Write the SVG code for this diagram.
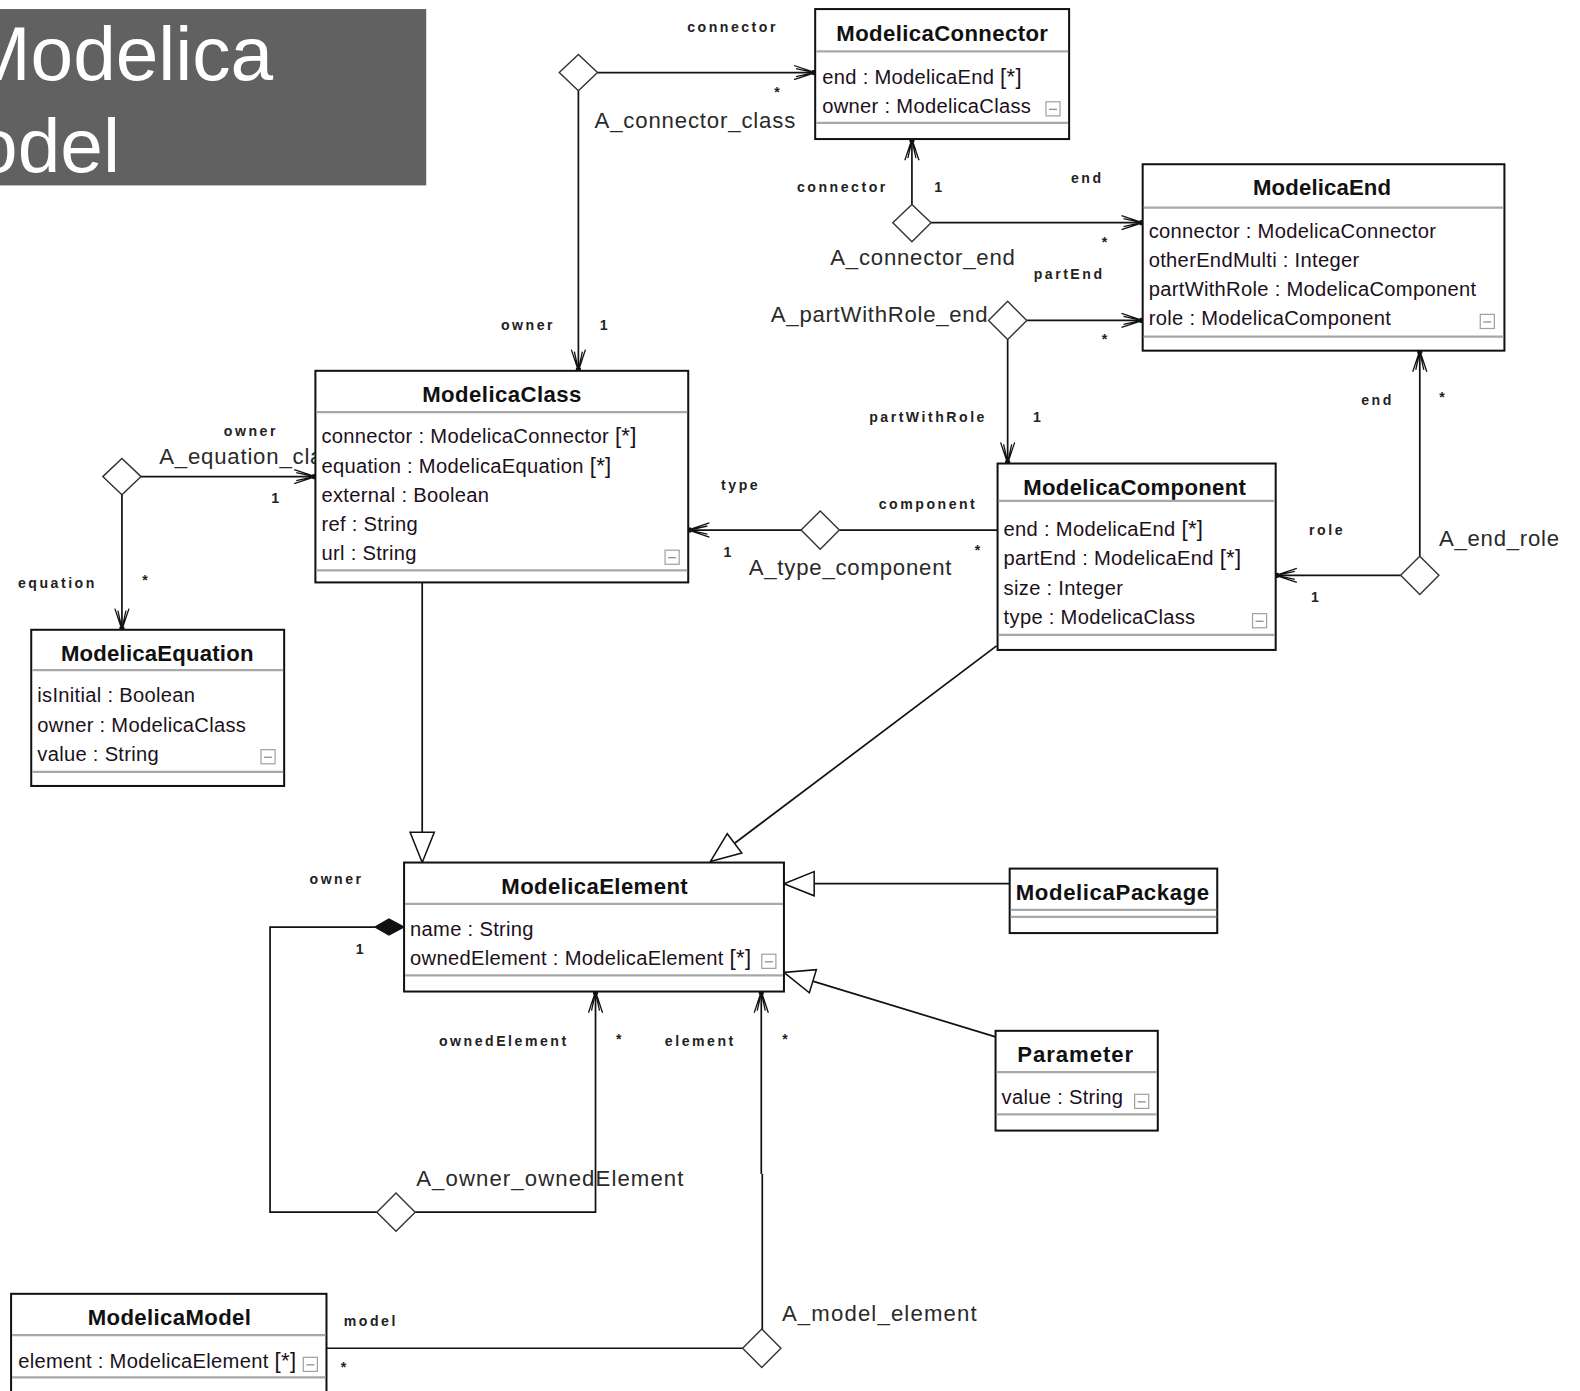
<svg xmlns="http://www.w3.org/2000/svg" width="1580" height="1391" viewBox="0 0 1580 1391">
  <style>
    .box { fill: #fff; stroke: #111; stroke-width: 2; }
    .sep { stroke: #a8a8a8; stroke-width: 2.2; }
    .title { font-family: "Liberation Sans", Arial, sans-serif; font-weight: bold; font-size: 22px; fill: #111; text-anchor: middle; }
    .attr { font-family: "Liberation Sans", Arial, sans-serif; font-size: 20px; letter-spacing: 0.3px; fill: #1c1020; }
    .many { font-size: 22px; }
    .icon { fill: #fff; stroke: #a0a0a0; stroke-width: 1.2; }
    .line { fill: none; stroke: #111; stroke-width: 1.7; }
    .dia { fill: #fff; stroke: #333; stroke-width: 1.4; }
    .assoc { font-family: "Liberation Sans", Arial, sans-serif; font-size: 22px; letter-spacing: 0.8px; fill: #2a2a2a; }
    .role { font-family: "Liberation Sans", Arial, sans-serif; font-weight: bold; font-size: 14px; fill: #222; letter-spacing: 2.5px; text-anchor: middle; }
    .mult { font-family: "Liberation Sans", Arial, sans-serif; font-weight: bold; font-size: 14px; fill: #222; text-anchor: middle; }
    .banner { font-family: "Liberation Sans", Arial, sans-serif; font-size: 76px; fill: #fff; }
  </style>
  <defs>
    <marker id="nav" viewBox="-24 -10 26 20" refX="0" refY="0" markerWidth="26" markerHeight="20" markerUnits="userSpaceOnUse" orient="auto">
      <path d="M-21,-7 L0,0 L-21,7 M-19,-4 L-1,0 L-19,4" fill="none" stroke="#111" stroke-width="1.3"/>
      <rect x="-3" y="-2.5" width="5" height="5" fill="#111"/>
    </marker>
    <marker id="gen" viewBox="-33 -15 35 30" refX="0" refY="0" markerWidth="35" markerHeight="30" markerUnits="userSpaceOnUse" orient="auto">
      <path d="M0,0 L-30,-12 L-30,12 Z" fill="#fff" stroke="#111" stroke-width="1.5"/>
    </marker>
    <g id="collapse">
      <rect class="icon" x="0" y="0" width="14" height="14"/>
      <line x1="3" y1="7.5" x2="11" y2="7.5" stroke="#888" stroke-width="1.2"/>
    </g>
  </defs>

  <rect x="0" y="0" width="1580" height="1391" fill="#fff"/>

  <g transform="scale(1.00765)">
    <!-- slide title banner -->
    <g id="banner">
      <rect x="0" y="9" width="423" height="175" fill="#616161"/>
      <text class="banner" x="-33" y="79">Modelica</text>
      <text class="banner" x="-88" y="171">Model</text>
    </g>

    <!-- associations and generalizations -->
    <g id="connectors">
      <!-- A_connector_class -->
      <path class="line" d="M593,72 L809,72" marker-end="url(#nav)"/>
      <path class="line" d="M574,90 L574,368" marker-end="url(#nav)"/>
      <path class="dia" d="M555,72 L574,54 L593,72 L574,90 Z"/>
      <text class="role" x="727" y="32">connector</text>
      <text class="mult" x="771" y="96">*</text>
      <text class="assoc" x="590" y="127" textLength="200">A_connector_class</text>
      <text class="role" x="524" y="327">owner</text>
      <text class="mult" x="599" y="327">1</text>

      <!-- A_connector_end -->
      <path class="line" d="M905,203 L905,138" marker-end="url(#nav)"/>
      <path class="line" d="M924,221 L1134,221" marker-end="url(#nav)"/>
      <path class="dia" d="M886,221 L905,203 L924,221 L905,240 Z"/>
      <text class="role" x="836" y="191">connector</text>
      <text class="mult" x="931" y="191">1</text>
      <text class="role" x="1079" y="182">end</text>
      <text class="mult" x="1096" y="245">*</text>
      <text class="assoc" x="824" y="263" textLength="184">A_connector_end</text>

      <!-- A_partWithRole_end -->
      <path class="line" d="M1019,318 L1134,318" marker-end="url(#nav)"/>
      <path class="line" d="M1000,337 L1000,460" marker-end="url(#nav)"/>
      <path class="dia" d="M981,318 L1000,299 L1019,318 L1000,337 Z"/>
      <text class="role" x="1061" y="277">partEnd</text>
      <text class="mult" x="1096" y="341">*</text>
      <text class="assoc" x="765" y="320" textLength="216">A_partWithRole_end</text>
      <text class="role" x="921" y="419">partWithRole</text>
      <text class="mult" x="1029" y="419">1</text>

      <!-- A_end_role -->
      <path class="line" d="M1409,552 L1409,348" marker-end="url(#nav)"/>
      <path class="line" d="M1390,571 L1266,571" marker-end="url(#nav)"/>
      <path class="dia" d="M1390,571 L1409,552 L1428,571 L1409,590 Z"/>
      <text class="role" x="1367" y="402">end</text>
      <text class="mult" x="1431" y="399">*</text>
      <text class="role" x="1317" y="531">role</text>
      <text class="mult" x="1305" y="597">1</text>
      <text class="assoc" x="1428" y="542" textLength="120">A_end_role</text>

      <!-- A_type_component -->
      <path class="line" d="M833,526 L990,526"/>
      <path class="line" d="M795,526 L683,526" marker-end="url(#nav)"/>
      <path class="dia" d="M795,526 L814,507 L833,526 L814,545 Z"/>
      <text class="role" x="735" y="486">type</text>
      <text class="role" x="921" y="505">component</text>
      <text class="mult" x="722" y="553">1</text>
      <text class="mult" x="970" y="551">*</text>
      <text class="assoc" x="743" y="571" textLength="202">A_type_component</text>

      <!-- A_equation_class -->
      <path class="line" d="M140,473 L313,473" marker-end="url(#nav)"/>
      <path class="line" d="M121,491 L121,625" marker-end="url(#nav)"/>
      <path class="dia" d="M102,473 L121,455 L140,473 L121,491 Z"/>
      <text class="role" x="249" y="433">owner</text>
      <text class="assoc" x="158" y="460">A_equation_class</text>
      <text class="mult" x="273" y="499">1</text>
      <text class="role" x="57" y="584">equation</text>
      <text class="mult" x="144" y="581">*</text>

      <!-- generalizations to ModelicaElement -->
      <path class="line" d="M419,578 L419,856" marker-end="url(#gen)"/>
      <path class="line" d="M989,641 L705,855" marker-end="url(#gen)"/>
      <path class="line" d="M1002,877 L778,877" marker-end="url(#gen)"/>
      <path class="line" d="M988,1029 L778,965" marker-end="url(#gen)"/>

      <!-- A_owner_ownedElement (composition) -->
      <path class="line" d="M372,920 L268,920 L268,1203 L374,1203"/>
      <path class="line" d="M412,1203 L591,1203 L591,984" marker-end="url(#nav)"/>
      <path d="M372,920 L386,912 L401,920 L386,928 Z" fill="#111" stroke="#111" stroke-width="1.2"/>
      <path class="dia" d="M374,1203 L393,1184 L412,1203 L393,1222 Z"/>
      <text class="role" x="334" y="877">owner</text>
      <text class="mult" x="357" y="947">1</text>
      <text class="role" x="500" y="1038">ownedElement</text>
      <text class="mult" x="614" y="1036">*</text>
      <text class="assoc" x="413" y="1177" textLength="266">A_owner_ownedElement</text>

      <!-- A_model_element -->
      <path class="line" d="M737,1338 L324,1338"/>
      <path class="line" d="M755.5,1165 L755.5,984" marker-end="url(#nav)"/>
      <path class="line" d="M756.5,1320 L756.5,1165"/>
      <path class="dia" d="M737,1338 L756,1319 L775,1338 L756,1357 Z"/>
      <text class="role" x="695" y="1038">element</text>
      <text class="mult" x="779" y="1036">*</text>
      <text class="role" x="368" y="1316">model</text>
      <text class="mult" x="341" y="1362">*</text>
      <text class="assoc" x="776" y="1311" textLength="194">A_model_element</text>
    </g>

    <!-- classes -->
    <g id="ModelicaConnector">
      <rect class="box" x="809" y="9" width="252" height="129"/>
      <text class="title" x="935" y="41" textLength="210">ModelicaConnector</text>
      <line class="sep" x1="810" y1="51" x2="1060" y2="51"/>
      <text class="attr" x="816" y="83">end : ModelicaEnd <tspan class="many">[*]</tspan></text>
      <text class="attr" x="816" y="112">owner : ModelicaClass</text>
      <use href="#collapse" x="1038" y="101"/>
      <line class="sep" x1="810" y1="122" x2="1060" y2="122"/>
    </g>

    <g id="ModelicaEnd">
      <rect class="box" x="1134" y="163" width="359" height="185"/>
      <text class="title" x="1312" y="194" textLength="137">ModelicaEnd</text>
      <line class="sep" x1="1135" y1="206" x2="1492" y2="206"/>
      <text class="attr" x="1140" y="236">connector : ModelicaConnector</text>
      <text class="attr" x="1140" y="265">otherEndMulti : Integer</text>
      <text class="attr" x="1140" y="294">partWithRole : ModelicaComponent</text>
      <text class="attr" x="1140" y="323">role : ModelicaComponent</text>
      <use href="#collapse" x="1469" y="312"/>
      <line class="sep" x1="1135" y1="334" x2="1492" y2="334"/>
    </g>

    <g id="ModelicaClass">
      <rect class="box" x="313" y="368" width="370" height="210"/>
      <text class="title" x="498" y="399" textLength="158">ModelicaClass</text>
      <line class="sep" x1="314" y1="409" x2="682" y2="409"/>
      <text class="attr" x="319" y="440">connector : ModelicaConnector <tspan class="many">[*]</tspan></text>
      <text class="attr" x="319" y="469">equation : ModelicaEquation <tspan class="many">[*]</tspan></text>
      <text class="attr" x="319" y="498">external : Boolean</text>
      <text class="attr" x="319" y="527">ref : String</text>
      <text class="attr" x="319" y="556">url : String</text>
      <use href="#collapse" x="660" y="546"/>
      <line class="sep" x1="314" y1="566" x2="682" y2="566"/>
    </g>

    <g id="ModelicaEquation">
      <rect class="box" x="31" y="625" width="251" height="155"/>
      <text class="title" x="156" y="656" textLength="191">ModelicaEquation</text>
      <line class="sep" x1="32" y1="665" x2="281" y2="665"/>
      <text class="attr" x="37" y="697">isInitial : Boolean</text>
      <text class="attr" x="37" y="726">owner : ModelicaClass</text>
      <text class="attr" x="37" y="755">value : String</text>
      <use href="#collapse" x="259" y="744"/>
      <line class="sep" x1="32" y1="766" x2="281" y2="766"/>
    </g>

    <g id="ModelicaComponent">
      <rect class="box" x="990" y="460" width="276" height="185"/>
      <text class="title" x="1126" y="491" textLength="221">ModelicaComponent</text>
      <line class="sep" x1="991" y1="497" x2="1265" y2="497"/>
      <text class="attr" x="996" y="532">end : ModelicaEnd <tspan class="many">[*]</tspan></text>
      <text class="attr" x="996" y="561">partEnd : ModelicaEnd <tspan class="many">[*]</tspan></text>
      <text class="attr" x="996" y="590">size : Integer</text>
      <text class="attr" x="996" y="619">type : ModelicaClass</text>
      <use href="#collapse" x="1243" y="609"/>
      <line class="sep" x1="991" y1="630" x2="1265" y2="630"/>
    </g>

    <g id="ModelicaElement">
      <rect class="box" x="401" y="856" width="377" height="128"/>
      <text class="title" x="590" y="887" textLength="185">ModelicaElement</text>
      <line class="sep" x1="402" y1="897" x2="777" y2="897"/>
      <text class="attr" x="407" y="929">name : String</text>
      <text class="attr" x="407" y="958">ownedElement : ModelicaElement <tspan class="many">[*]</tspan></text>
      <use href="#collapse" x="756" y="947"/>
      <line class="sep" x1="402" y1="968" x2="777" y2="968"/>
    </g>

    <g id="ModelicaPackage">
      <rect class="box" x="1002" y="862" width="206" height="64"/>
      <text class="title" x="1104" y="893" textLength="192">ModelicaPackage</text>
      <line class="sep" x1="1003" y1="903" x2="1207" y2="903"/>
      <line class="sep" x1="1003" y1="910" x2="1207" y2="910"/>
    </g>

    <g id="Parameter">
      <rect class="box" x="988" y="1023" width="161" height="99"/>
      <text class="title" x="1067" y="1054" textLength="115">Parameter</text>
      <line class="sep" x1="989" y1="1064" x2="1148" y2="1064"/>
      <text class="attr" x="994" y="1096">value : String</text>
      <use href="#collapse" x="1126" y="1086"/>
      <line class="sep" x1="989" y1="1106" x2="1148" y2="1106"/>
    </g>

    <g id="ModelicaModel">
      <rect class="box" x="11" y="1284" width="313" height="130"/>
      <text class="title" x="168" y="1315" textLength="162">ModelicaModel</text>
      <line class="sep" x1="12" y1="1325" x2="323" y2="1325"/>
      <text class="attr" x="18" y="1358">element : ModelicaElement <tspan class="many">[*]</tspan></text>
      <use href="#collapse" x="301" y="1347"/>
      <line class="sep" x1="12" y1="1367" x2="323" y2="1367"/>
    </g>
  </g>
</svg>
